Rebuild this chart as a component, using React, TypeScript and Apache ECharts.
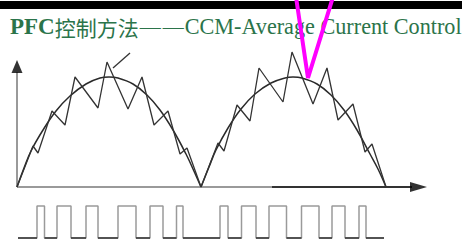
import React, { useEffect, useRef } from "react";
import * as echarts from "echarts";

// Title pieces
const TITLE_PFC = "PFC";
const TITLE_CN = "控制方法";
const TITLE_DASH = "—";
const TITLE_EN = "CCM-Average Current Control";

// Rectified sine reference (average current): [time, amplitude]
const archOne: number[][] = [
  [0, 0], [7, 19], [14, 36], [26, 57], [39, 76], [53, 91], [69, 103], [83, 109], [92, 110],
  [101, 109], [116, 103], [130, 92], [143, 77], [156, 57], [169, 33], [176, 18], [184, 0],
];
const archTwo: number[][] = [
  [184, 0], [192, 20], [199, 37], [211, 59], [224, 78], [238, 93], [254, 104], [268, 109], [276, 110],
  [285, 109], [300, 103], [314, 92], [327, 77], [340, 57], [353, 33], [361, 18], [369, 0],
];

// Inductor current ripple (zigzag)
const rippleOne: number[][] = [
  [0, 0], [16, 41], [21, 34], [35, 76], [48, 62], [58, 110], [81, 79], [90, 125], [111, 78],
  [125, 110], [137, 62], [151, 76], [163, 33], [170, 39], [184, 0],
];
const rippleTwo: number[][] = [
  [184, 0], [201, 44], [207, 36], [220, 82], [233, 66], [242, 119], [266, 85], [275, 135], [296, 83],
  [310, 119], [321, 67], [336, 83], [348, 35], [355, 43], [369, 0],
];

// PWM gate signal
const pwmLow = -51;
const pwmHigh = -19;
const pwmStart = 1;
const pwmEnd = 367;
const pwmEdges = [
  20, 27.5, 40, 54, 69, 81, 101, 119, 133, 146, 159.5, 166,
  203, 211, 224.5, 239, 252, 269.5, 284.5, 302, 315, 328, 342, 349,
];

// Axes (time axis and amplitude axis)
const xAxisGrayEnd = 255;
const xAxisEnd = 395;
const xArrowAt = 401.5;
const yAxisEnd = 115;
const yArrowAt = 120.5;

// Pointer and magenta annotation
const pointer: number[][] = [[96, 119], [113, 134]];
const magentaMark: number[][] = [[279, 190], [291, 109], [316, 190]];

function buildPwm(): number[][] {
  const pts: number[][] = [[pwmStart, pwmLow]];
  let lvl = pwmLow;
  for (const e of pwmEdges) {
    pts.push([e, lvl]);
    lvl = lvl === pwmLow ? pwmHigh : pwmLow;
    pts.push([e, lvl]);
  }
  pts.push([pwmEnd, lvl]);
  return pts;
}

function buildLowSegments() {
  const segs: { coords: number[][] }[] = [];
  let start = pwmStart;
  for (let i = 0; i < pwmEdges.length; i += 2) {
    segs.push({ coords: [[start, pwmLow], [pwmEdges[i], pwmLow]] });
    start = pwmEdges[i + 1];
  }
  segs.push({ coords: [[start, pwmLow], [pwmEnd, pwmLow]] });
  return segs;
}

export default function App() {
  const ref = useRef<HTMLDivElement>(null);
  useEffect(() => {
    if (!ref.current) return;
    const chart = echarts.init(ref.current, undefined, { renderer: "svg" });
    const dark = "#2a2a2a";
    const green = "#2b744a";
    const line = (data: number[][], color: string, width: number, smooth: boolean | number = false) => ({
      type: "line",
      data,
      smooth,
      symbol: "none",
      clip: false,
      lineStyle: { color, width },
      silent: true,
      z: 3,
    });
    chart.setOption({
      animation: false,
      backgroundColor: "#ffffff",
      title: {
        text: `{a|${TITLE_PFC}}{b|${TITLE_CN}}{d|${TITLE_DASH}}{d|${TITLE_DASH}}{c|${TITLE_EN}}`,
        left: 10,
        top: 15,
        padding: 0,
        textStyle: {
          fontWeight: "normal",
          rich: {
            a: { fontFamily: "Liberation Serif", fontWeight: "bold", fontSize: 23, color: green },
            b: { fontFamily: "Noto Sans CJK SC", fontWeight: "normal", fontSize: 21, color: green },
            d: { fontFamily: "Liberation Serif", fontWeight: "normal", fontSize: 21, color: green, padding: [0, 1, 0, 1] },
            c: { fontFamily: "Liberation Serif", fontWeight: "normal", fontSize: 22.2, color: green },
          },
        },
      },
      graphic: [
        { type: "rect", z: 0, shape: { x: 0, y: 1, width: 462, height: 8 }, style: { fill: "#000" } },
      ],
      grid: { left: 0, right: 0, top: 0, bottom: 0 },
      xAxis: { type: "value", min: -17, max: 445, show: false },
      yAxis: { type: "value", min: -56, max: 187, show: false },
      series: [
        line([[0, 0], [0, yAxisEnd]], "#9a9a9a", 2),
        line([[0, 0], [xAxisGrayEnd, 0]], "#9a9a9a", 2),
        line([[xAxisGrayEnd, 0], [xAxisEnd, 0]], "#333", 2),
        {
          type: "scatter",
          data: [[0, yArrowAt]],
          symbol: "triangle",
          symbolSize: [11, 13],
          itemStyle: { color: "#000" },
          silent: true,
          z: 4,
        },
        {
          type: "scatter",
          data: [[xArrowAt, 0]],
          symbol: "triangle",
          symbolSize: [10, 17],
          symbolRotate: -90,
          itemStyle: { color: "#000" },
          silent: true,
          z: 4,
        },
        line(archOne, dark, 1.5, 0.4),
        line(archTwo, dark, 1.5, 0.4),
        line(rippleOne, "#333", 1.3),
        line(rippleTwo, "#333", 1.3),
        line(pointer, "#333", 1.3),
        line(buildPwm(), "#9a9a9a", 1.5),
        {
          type: "lines",
          coordinateSystem: "cartesian2d",
          data: buildLowSegments(),
          lineStyle: { color: "#333", width: 1.5, opacity: 1 },
          silent: true,
          z: 4,
        },
        { ...line(magentaMark, "#ff00ff", 4), z: 10 },
      ],
    });
    return () => chart.dispose();
  }, []);
  return (
    <div
      ref={ref}
      style={{ position: "fixed", left: 0, top: 0, width: 462, height: 243 }}
    />
  );
}
